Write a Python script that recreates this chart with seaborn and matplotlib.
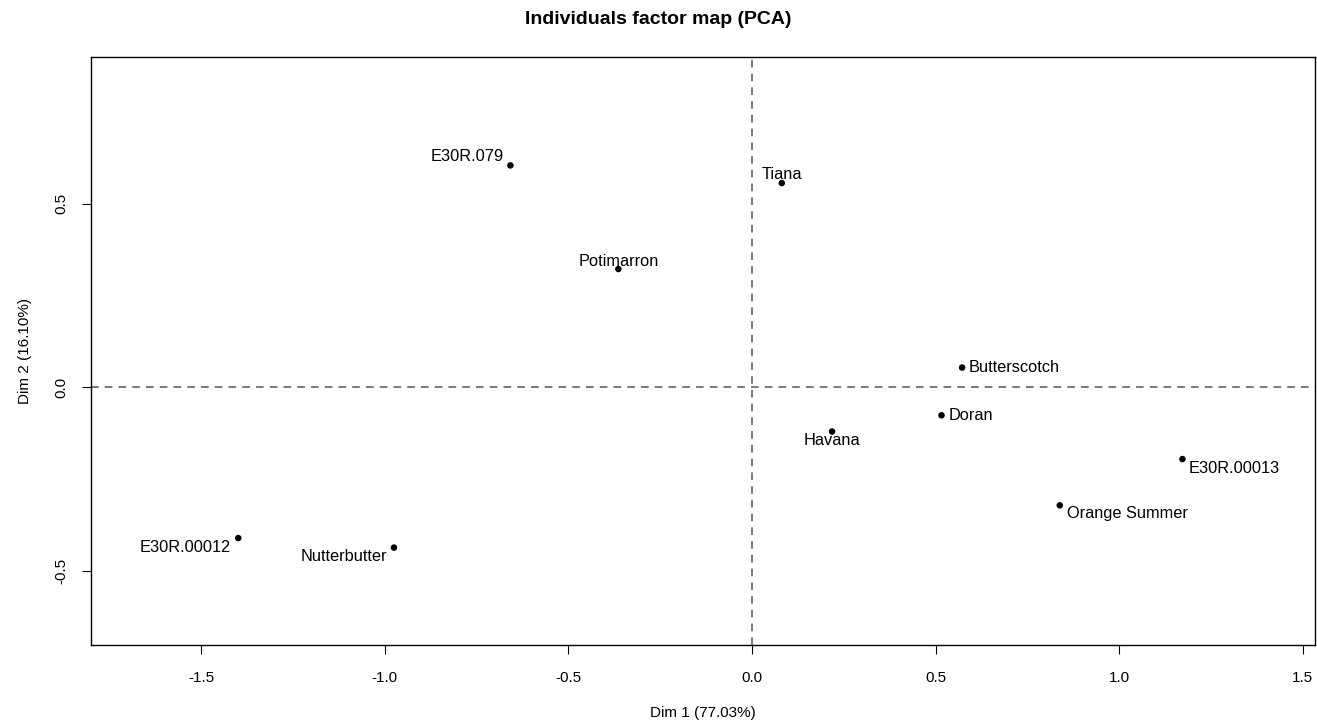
import matplotlib
matplotlib.use("Agg")
import matplotlib.pyplot as plt
import pandas as pd
import seaborn as sns

# coordinates of the individuals on the first two PCA dimensions
names = ["E30R.079", "Tiana", "Potimarron", "Butterscotch", "Doran",
         "Havana", "E30R.00013", "Orange Summer", "E30R.00012", "Nutterbutter"]
dim1 = [-0.658, 0.081, -0.364, 0.572, 0.516, 0.218, 1.172, 0.838, -1.399, -0.975]
dim2 = [0.604, 0.556, 0.322, 0.054, -0.076, -0.120, -0.195, -0.321, -0.410, -0.436]

x_ticks = [-1.5, -1.0, -0.5, 0.0, 0.5, 1.0, 1.5]
y_ticks = [-0.5, 0.0, 0.5]

# label placement (pixels from the point, horizontal align, vertical align)
label_pos = {
    "E30R.079": ((-7, 9), "right", "center"),
    "Tiana": ((0, 9), "center", "center"),
    "Potimarron": ((0, 8), "center", "center"),
    "Butterscotch": ((7, 0), "left", "center"),
    "Doran": ((7, 0), "left", "center"),
    "Havana": ((0, -9), "center", "center"),
    "E30R.00013": ((6, -9), "left", "center"),
    "Orange Summer": ((7, -8), "left", "center"),
    "E30R.00012": ((-7, -9), "right", "center"),
    "Nutterbutter": ((-7, -9), "right", "center"),
}

df = pd.DataFrame({"name": names, "Dim1": dim1, "Dim2": dim2})

sns.set_theme(style="white")
plt.rcParams["font.family"] = ["Liberation Sans", "DejaVu Sans"]
plt.rcParams["text.color"] = "black"
plt.rcParams["axes.labelcolor"] = "black"

fig = plt.figure(figsize=(13.17, 7.25), dpi=100)
ax = fig.add_axes([91 / 1317, 80 / 725, 1224 / 1317, 588 / 725])

ax.axhline(0, color="#555555", linestyle=(0, (5, 4)), linewidth=1.1)
ax.axvline(0, color="#555555", linestyle=(0, (5, 4)), linewidth=1.1)

sns.scatterplot(data=df, x="Dim1", y="Dim2", ax=ax, color="black",
                s=22, edgecolor="none", zorder=3)

for _, row in df.iterrows():
    off, ha, va = label_pos[row["name"]]
    ax.annotate(row["name"], (row["Dim1"], row["Dim2"]), xytext=off,
                textcoords="offset pixels", ha=ha, va=va, fontsize=11.8,
                color="black")

ax.set_xlim(-1.800, 1.533)
ax.set_ylim(-0.701, 0.899)
ax.set_xticks(x_ticks)
ax.set_xticklabels([f"{v:.1f}" for v in x_ticks])
ax.set_yticks(y_ticks)
ax.set_yticklabels([f"{v:.1f}" for v in y_ticks], rotation=90, va="center")
ax.tick_params(axis="both", direction="out", length=6.5, width=0.8,
               labelsize=11, colors="black", bottom=True, left=True)
ax.tick_params(axis="x", pad=12)
ax.tick_params(axis="y", pad=9.5)
for sp in ax.spines.values():
    sp.set_color("black")
    sp.set_linewidth(1.0)

ax.set_xlabel("Dim 1 (77.03%)", fontsize=11, labelpad=15.5)
ax.set_ylabel("Dim 2 (16.10%)", fontsize=11, labelpad=16.5)
fig.text(0.5, 1 - 20 / 725, "Individuals factor map (PCA)", ha="center",
         va="center", fontsize=14, fontweight="bold")

fig.savefig("out.png", dpi=100)
